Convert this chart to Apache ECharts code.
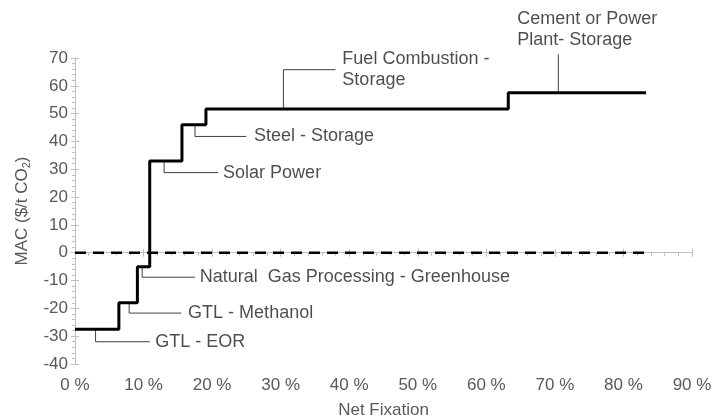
<!DOCTYPE html>
<html>
<head>
<meta charset="utf-8">
<script src="https://cdn.jsdelivr.net/npm/echarts@6/dist/echarts.min.js"></script>
<style>
html,body{margin:0;padding:0;background:#fff;}
#chart{width:714px;height:419px;}
</style>
</head>
<body>
<div id="chart"></div>
<script>
// Segments of the MAC curve
const categories = ['GTL - EOR', 'GTL - Methanol', 'Natural  Gas Processing - Greenhouse', 'Solar Power', 'Steel - Storage', 'Fuel Combustion -\nStorage', 'Cement or Power\nPlant- Storage'];
const segEnd = [6.4, 9.1, 10.9, 15.6, 19.1, 63.2, 83.3];      // cumulative net fixation (%)
const macValues = [-27.5, -18, -5, 33, 46, 51.7, 57.5];         // $/t CO2

// Annotation leader geometry (data units)
const annAnchorX = [3.0, 7.9, 9.8, 13.0, 17.5, 30.4, 70.5];
const annElbowY = [-32, -21.7, -8.8, 28.8, 41.8, 65.8, 71.3];
const annEndX = [10.9, 15.5, 17.5, 20.9, 25.0, 38.0, 70.5];
const annTextX = [11.7, 16.5, 18.2, 21.6, 26.1, 39.0, 64.5];
const annTextY = [-32, -21.7, -8.8, 28.8, 41.8, 65.8, 80.1];

const xTicks = {min: 0, max: 90, interval: 10};
const yTicks = {min: -40, max: 70, interval: 10};

const FONT = 'Liberation Sans, Arial, sans-serif';
const AXIS_GREY = '#bfbfbf';
const LABEL_GREY = '#595959';

// Build step path
const stepData = [];
let start = 0;
for (let i = 0; i < segEnd.length; i++) {
  stepData.push([start, macValues[i]]);
  stepData.push([segEnd[i], macValues[i]]);
  start = segEnd[i];
}
const zeroLine = [[0, 0], [segEnd[segEnd.length - 1], 0]];

const leaderSeries = categories.map((c, i) => ({
  type: 'line',
  data: [[annAnchorX[i], macValues[i]], [annAnchorX[i], annElbowY[i]], [annEndX[i], annElbowY[i]]],
  symbol: 'none',
  clip: false,
  silent: true,
  z: 1,
  lineStyle: {color: '#404040', width: 1}
}));

const labelSeries = {
  type: 'scatter',
  symbolSize: 0,
  clip: false,
  silent: true,
  data: categories.map((c, i) => ({value: [annTextX[i], annTextY[i]], name: c})),
  label: {
    show: true,
    position: 'right',
    distance: 0,
    formatter: p => p.name,
    color: '#1f1f1f',
    fontSize: 18,
    fontFamily: FONT,
    lineHeight: 21,
    align: 'left'
  }
};

const baseX = {
  type: 'value', min: xTicks.min, max: xTicks.max, interval: xTicks.interval,
  position: 'bottom'
};
const baseY = {
  type: 'value', min: yTicks.min, max: yTicks.max, interval: yTicks.interval,
  position: 'left'
};

const option = {
  animation: false,
  grid: {left: 75, right: 22, top: 58, bottom: 55, containLabel: false, outerBoundsMode: 'none'},
  xAxis: [
    Object.assign({}, baseX, {
      name: 'Net Fixation',
      nameLocation: 'middle',
      nameGap: 38,
      nameTextStyle: {color: LABEL_GREY, fontSize: 17, fontFamily: FONT},
      axisLine: {show: true, lineStyle: {color: AXIS_GREY, width: 1}},
      axisTick: {show: true, inside: false, length: 4, lineStyle: {color: AXIS_GREY}},
      minorTick: {show: true, splitNumber: 5, length: 3, lineStyle: {color: AXIS_GREY}},
      splitLine: {show: false},
      minorSplitLine: {show: false},
      axisLabel: {formatter: '{value} %', color: LABEL_GREY, fontSize: 17, fontFamily: FONT, margin: 13}
    }),
    Object.assign({}, baseX, {
      axisLine: {show: false},
      axisTick: {show: true, inside: true, length: 4, lineStyle: {color: AXIS_GREY}},
      axisLabel: {show: false},
      splitLine: {show: false}
    })
  ],
  yAxis: [
    Object.assign({}, baseY, {
      name: 'MAC ($/t CO{s|2})',
      nameLocation: 'middle',
      nameGap: 41,
      nameTextStyle: {
        color: LABEL_GREY, fontSize: 17, fontFamily: FONT,
        rich: {s: {fontSize: 11, color: LABEL_GREY, fontFamily: FONT, verticalAlign: 'bottom', lineHeight: 20}}
      },
      axisLine: {show: true, lineStyle: {color: AXIS_GREY, width: 1}},
      axisTick: {show: true, inside: false, length: 4, lineStyle: {color: AXIS_GREY}},
      minorTick: {show: true, splitNumber: 5, length: 3, lineStyle: {color: AXIS_GREY}},
      splitLine: {show: false},
      minorSplitLine: {show: false},
      axisLabel: {color: LABEL_GREY, fontSize: 17, fontFamily: FONT, margin: 7}
    }),
    Object.assign({}, baseY, {
      axisLine: {show: false},
      axisTick: {show: true, inside: true, length: 4, lineStyle: {color: AXIS_GREY}},
      axisLabel: {show: false},
      splitLine: {show: false}
    })
  ],
  series: [
    {
      type: 'line',
      data: zeroLine,
      symbol: 'none',
      silent: true,
      z: 2,
      lineStyle: {color: '#000', width: 2.5, type: [11, 7]}
    },
    ...leaderSeries,
    {
      type: 'line',
      data: stepData,
      symbol: 'none',
      silent: true,
      z: 3,
      lineStyle: {color: '#000', width: 3}
    },
    labelSeries
  ]
};

const chart = echarts.init(document.getElementById('chart'), null, {renderer: 'canvas'});
chart.setOption(option);
</script>
</body>
</html>
